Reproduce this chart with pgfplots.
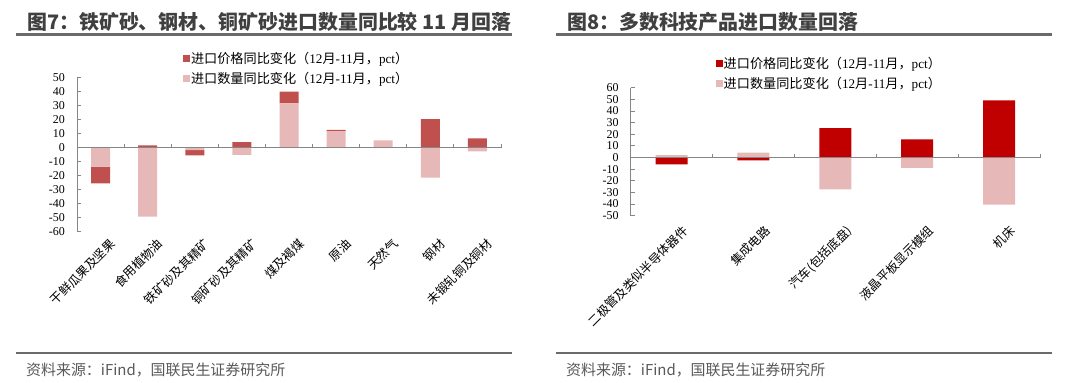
\documentclass[border=0pt]{standalone}
\usepackage{pgfplots}
\pgfplotsset{compat=1.18}
\usepackage{pgfplotstable}
\usepackage{fontspec}
\setmainfont{Liberation Serif}
\newfontfamily\cjk{Noto Sans CJK SC}
\definecolor{darkA}{HTML}{C0504D}
\definecolor{darkB}{HTML}{C00000}
\definecolor{lightP}{HTML}{E6B9B8}
\definecolor{axisgray}{HTML}{868686}
\definecolor{titlegray}{HTML}{404040}
\definecolor{rulegray}{HTML}{6A6A6A}
\definecolor{srcgray}{HTML}{595959}

% x: category, q: import volume yoy change, p: import price yoy change
\pgfplotstableread{
x q p
1 -13.6 -11.9
2 -49.3 1.7
3 -1.8 -3.6
4 -5.2 4.0
5 31.7 8.3
6 11.9 0.8
7 5.2 0.0
8 -21.4 20.5
9 -2.6 6.7
}\leftdata

\pgfplotstableread{
x q p
1 2.0 -6.0
2 4.2 -2.4
3 -27.3 25.3
4 -8.9 15.5
5 -40.5 49.1
}\rightdata

\newcommand{\legA}{{\cjk 进口价格同比变化（}12{\cjk 月}-11{\cjk 月，}pct{\cjk ）}}
\newcommand{\legB}{{\cjk 进口数量同比变化（}12{\cjk 月}-11{\cjk 月，}pct{\cjk ）}}

\pgfplotsset{
  common/.style={
    anchor=south west, scale only axis,
    ybar stacked,
    axis line style={axisgray, line width=0.8bp},
    tick style={axisgray, line width=0.8bp},
    major tick length=4bp,
  },
  mainax/.style={
    common, axis on top,
    axis x line*=middle, axis y line*=left,
    hide obscured x ticks=false, hide obscured y ticks=false,
    xticklabels={},
    xtick align=inside, ytick align=inside,
    yticklabel style={font=\fontsize{12}{12}\selectfont, anchor=east, inner sep=0pt, xshift=-12bp},
    legend style={draw=none, fill=none, inner sep=0pt, outer sep=0pt,
      font=\fontsize{13.2}{15}\selectfont, cells={anchor=west},
      row sep=5bp, nodes={inner sep=1bp}},
    legend image code/.code={\fill[##1] (0bp,-3.5bp) rectangle (7bp,3.5bp);},
  },
  negax/.style={
    common,
    axis y line=none, axis x line*=bottom,
    x axis line style={draw=none},
    major tick length=0pt, ytick=\empty,
    xticklabel style={font=\cjk\fontsize{12.3}{13}\selectfont, rotate=45, anchor=north east, inner sep=0pt},
  },
}

\begin{document}
\begin{tikzpicture}
\path (0bp,0bp) rectangle (1080bp,383bp);

% ---------------- Left panel ----------------
\node[anchor=base west, inner sep=0pt, text=titlegray] at (27bp,353.5bp)
  {\cjk\bfseries\fontsize{20}{24}\selectfont 图7：铁矿砂、钢材、铜矿砂进口数量同比较 11 月回落};
\draw[rulegray, line width=2.5bp] (16bp,348.5bp) -- (512bp,348.5bp);
\draw[rulegray, line width=2bp] (16bp,29.7bp) -- (512bp,29.7bp);
\node[anchor=base west, inner sep=0pt, text=srcgray] at (26bp,7.5bp)
  {\cjk\fontsize{15}{18}\selectfont 资料来源：iFind，国联民生证券研究所};

\begin{axis}[negax, at={(77bp,151.3bp)}, width=424bp, height=154bp,
  xmin=0.5, xmax=9.5, ymin=-60, ymax=50, bar width=19bp,
  xtick={1,...,9},
  xticklabels={干鲜瓜果及坚果,食用植物油,铁矿砂及其精矿,铜矿砂及其精矿,煤及褐煤,原油,天然气,钢材,未锻轧铜及铜材},
  xticklabel style={yshift=-10bp, xshift=2bp}]
\addplot[fill=lightP, draw=none] table[x=x, y expr={min(\thisrow{q},0)}]{\leftdata};
\addplot[fill=darkA, draw=none] table[x=x, y expr={min(\thisrow{p},0)}]{\leftdata};
\end{axis}

\begin{axis}[mainax, at={(77bp,151.3bp)}, width=424bp, height=154bp,
  xmin=0.5, xmax=9.5, ymin=-60, ymax=50, bar width=19bp,
  xtick={0.5,1.5,...,9.5},
  ytick={-60,-50,...,50},
  yticklabels={-60,-50,-40,-30,-20,-10,0,10,20,30,40,50},
  legend style={at={(0.25,1.172)}, anchor=north west}]
\addplot[fill=lightP, draw=none, forget plot] table[x=x, y expr={max(\thisrow{q},0)}]{\leftdata};
\addplot[fill=darkA, draw=none, forget plot] table[x=x, y expr={max(\thisrow{p},0)}]{\leftdata};
\addlegendimage{fill=darkA, draw=none}
\addlegendentry{\legA}
\addlegendimage{fill=lightP, draw=none}
\addlegendentry{\legB}
\end{axis}

% ---------------- Right panel ----------------
\node[anchor=base west, inner sep=0pt, text=titlegray] at (567bp,353.5bp)
  {\cjk\bfseries\fontsize{20}{24}\selectfont 图8：多数科技产品进口数量回落};
\draw[rulegray, line width=2.5bp] (556bp,348.5bp) -- (1052bp,348.5bp);
\draw[rulegray, line width=2bp] (556bp,29.7bp) -- (1052bp,29.7bp);
\node[anchor=base west, inner sep=0pt, text=srcgray] at (566bp,7.5bp)
  {\cjk\fontsize{15}{18}\selectfont 资料来源：iFind，国联民生证券研究所};

\begin{axis}[negax, at={(630.7bp,167.3bp)}, width=409.3bp, height=128bp,
  xmin=0.5, xmax=5.5, ymin=-50, ymax=60, bar width=32bp,
  xtick={1,...,5},
  xticklabels={二极管及类似半导体器件,集成电路,汽车(包括底盘),液晶平板显示模组,机床},
  xticklabel style={yshift=-13bp, xshift=1bp}]
\addplot[fill=lightP, draw=none] table[x=x, y expr={min(\thisrow{q},0)}]{\rightdata};
\addplot[fill=darkB, draw=none] table[x=x, y expr={min(\thisrow{p},0)}]{\rightdata};
\end{axis}

\begin{axis}[mainax, at={(630.7bp,167.3bp)}, width=409.3bp, height=128bp,
  xmin=0.5, xmax=5.5, ymin=-50, ymax=60, bar width=32bp,
  xtick={0.5,1.5,...,5.5},
  ytick={-50,-40,...,60},
  yticklabels={-50,-40,-30,-20,-10,0,10,20,30,40,50,60},
  legend style={at={(0.2077,1.245)}, anchor=north west}]
\addplot[fill=lightP, draw=none, forget plot] table[x=x, y expr={max(\thisrow{q},0)}]{\rightdata};
\addplot[fill=darkB, draw=none, forget plot] table[x=x, y expr={max(\thisrow{p},0)}]{\rightdata};
\addlegendimage{fill=darkB, draw=none}
\addlegendentry{\legA}
\addlegendimage{fill=lightP, draw=none}
\addlegendentry{\legB}
\end{axis}
\end{tikzpicture}
\end{document}
